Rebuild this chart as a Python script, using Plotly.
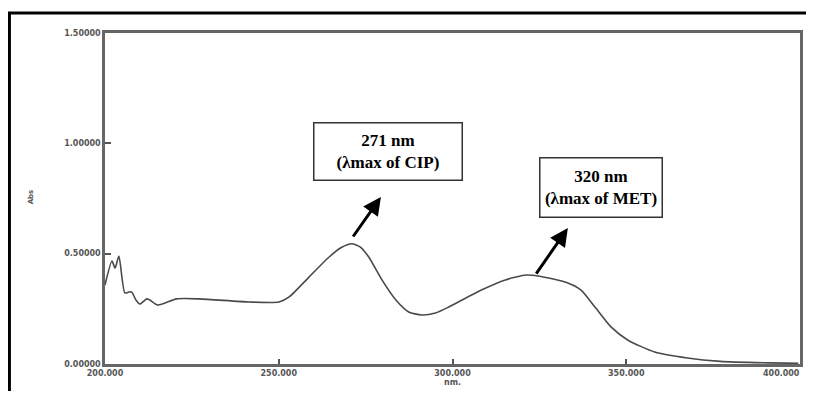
import plotly.graph_objects as go

# Spectrum data (wavelength in nm, absorbance)
wavelength = [200.0, 202.0, 202.9, 204.0, 205.7, 206.9, 207.7, 208.9, 210.0, 212.0,
              212.9, 215.2, 220.6, 227.2, 241.5, 250.1, 253.0, 258.7, 264.5, 268.0,
              271.0, 273.5, 275.9, 279.7, 283.7, 287.4, 291.1, 295.1, 298.9, 301.7,
              308.3, 315.2, 321.2, 324.6, 329.0, 333.2, 337.0, 341.0, 345.6, 350.4,
              358.2, 367.6, 377.1, 391.4, 399.5]
absorbance = [0.358, 0.467, 0.435, 0.489, 0.322, 0.326, 0.326, 0.290, 0.272, 0.295,
              0.290, 0.267, 0.295, 0.295, 0.281, 0.281, 0.304, 0.394, 0.485, 0.528,
              0.545, 0.530, 0.485, 0.381, 0.290, 0.236, 0.222, 0.231, 0.258, 0.281,
              0.335, 0.381, 0.403, 0.399, 0.385, 0.367, 0.335, 0.258, 0.168, 0.109,
              0.054, 0.027, 0.012, 0.005, 0.003]

x_ticks = [200, 250, 300, 350, 400]
y_ticks = [0.0, 0.5, 1.0, 1.5]

# Annotation boxes: (center x, center y, text)
box_labels = ["<b>271 nm</b><br><b>(λmax of CIP)</b>", "<b>320 nm</b><br><b>(λmax of MET)</b>"]
box_centers = [(281.5, 0.965), (342.8, 0.800)]
box_sizes = [(145, 54), (119, 56)]
# Arrows: (head x, head y, tail x, tail y)
arrows = [(279.4, 0.757, 271.1, 0.571), (333.2, 0.616, 323.8, 0.403)]

# page body has an 8px margin; figure is sized/placed to compensate
OFF = 8
W, H = 814 - 2 * OFF, 399 - 2 * OFF
L, T = 105 - OFF, 33 - OFF
R = W - (803 - OFF)
B = H - (364 - OFF)
pw, ph = W - L - R, H - T - B

fig = go.Figure()
fig.add_trace(go.Scatter(x=wavelength, y=absorbance, mode="lines",
                         line=dict(color="#4a4a4a", width=1.6, shape="spline", smoothing=0.6),
                         showlegend=False, hoverinfo="skip"))

tickfont = dict(family="DejaVu Sans", size=8, color="#555555", weight="bold")

fig.update_xaxes(range=[200, 400], tickvals=x_ticks, tickformat=".3f",
                 showgrid=False, zeroline=False, showline=True, mirror=True,
                 linecolor="#666666", linewidth=2.5,
                 ticks="inside", ticklen=5, tickwidth=1.5, tickcolor="#555555",
                 tickfont=tickfont,
                 title=dict(text="nm.", font=dict(family="DejaVu Sans", size=8, color="#555555", weight="bold"),
                            standoff=0))
fig.update_yaxes(range=[0, 1.5], tickvals=y_ticks, tickformat=".5f",
                 showgrid=False, zeroline=False, showline=True, mirror=True,
                 linecolor="#666666", linewidth=2.5,
                 ticks="inside", ticklen=6, tickwidth=1.5, tickcolor="#555555",
                 tickfont=tickfont)

annotations = []
for (cx, cy), txt, (bw, bh) in zip(box_centers, box_labels, box_sizes):
    annotations.append(dict(x=cx, y=cy, xref="x", yref="y", text=txt, showarrow=False,
                            font=dict(family="Liberation Serif", size=17, color="black"),
                            bordercolor="#333333", borderwidth=1.5, bgcolor="white",
                            width=bw, height=bh, align="center", valign="middle"))
for hx, hy, tx, ty in arrows:
    annotations.append(dict(x=hx, y=hy, ax=tx, ay=ty, xref="x", yref="y", axref="x", ayref="y",
                            text="", showarrow=True, arrowhead=2, arrowsize=1.2,
                            arrowwidth=3, arrowcolor="black"))
# last x tick label (kept inside the page edge)
annotations.append(dict(x=x_ticks[-1], y=0, xref="x", yref="paper", yanchor="top", yshift=-3,
                        xanchor="right", xshift=2,
                        text=f"{x_ticks[-1]:.3f}", showarrow=False, font=tickfont))
annotations.append(dict(x=(25 - 105) / pw, y=(364 - 197) / ph, xref="paper", yref="paper",
                        text="Abs", textangle=-90, showarrow=False,
                        font=dict(family="DejaVu Sans", size=7, color="#555555", weight="bold")))

shapes = [dict(type="rect", xref="paper", yref="paper",
               x0=(9 - 105) / pw, x1=(830 - 105) / pw,
               y0=(364 - 420) / ph, y1=(364 - 13) / ph,
               line=dict(color="black", width=3), fillcolor="rgba(0,0,0,0)", layer="above")]

fig.update_layout(width=W, height=H, margin=dict(l=L, r=R, t=T, b=B),
                  plot_bgcolor="white", paper_bgcolor="white",
                  annotations=annotations, shapes=shapes)

fig.write_html("out.html")
